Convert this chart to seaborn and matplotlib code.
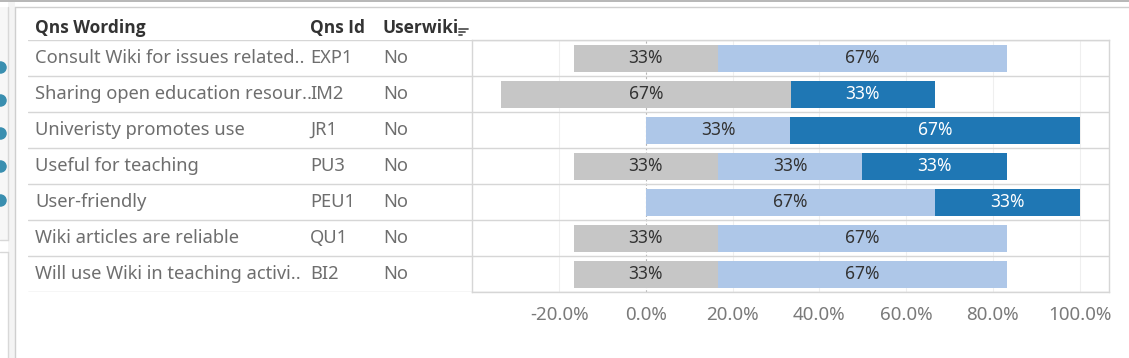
import numpy as np
import pandas as pd
import matplotlib
matplotlib.use('Agg')
import matplotlib.pyplot as plt
from matplotlib.lines import Line2D
from matplotlib.patches import Rectangle
import seaborn as sns

# 데이터 (그림에서 읽은 값, 단위 %)
wording = ['Consult Wiki for issues related..', 'Sharing open education resour..',
           'Univeristy promotes use', 'Useful for teaching', 'User-friendly',
           'Wiki articles are reliable', 'Will use Wiki in teaching activi..']
qns_id = ['EXP1', 'IM2', 'JR1', 'PU3', 'PEU1', 'QU1', 'BI2']
userwiki = ['No', 'No', 'No', 'No', 'No', 'No', 'No']
neutral = [33.3, 66.7, 0.0, 33.3, 0.0, 33.3, 33.3]
agree = [66.7, 0.0, 33.3, 33.3, 66.7, 66.7, 66.7]
strongly = [0.0, 33.3, 66.7, 33.3, 33.3, 0.0, 0.0]
xticks = [-20, 0, 20, 40, 60, 80, 100]

C_GREY = '#c6c6c6'
C_LIGHT = '#aec7e8'
C_DARK = '#1f77b4'
C_LINE = '#d6d6d6'

sns.set_style('white')
plt.rcParams['font.family'] = ['Noto Sans', 'DejaVu Sans']

W, H = 1129, 358
fig = plt.figure(figsize=(W / 100, H / 100), dpi=100)
fig.patch.set_facecolor('white')


def fx(x):
    return x / W


def fy(y):
    return 1 - y / H


# 태블로 화면 테두리 흉내
fig.add_artist(Rectangle((0, fy(240)), fx(8), fy(7) - fy(240), transform=fig.transFigure,
                         facecolor='#f7f7f7', edgecolor='none'))
fig.add_artist(Rectangle((fx(8), 0), fx(7), 1, transform=fig.transFigure,
                         facecolor='#f4f4f4', edgecolor='none'))
fig.add_artist(Rectangle((0, fy(2)), 1, fy(0) - fy(2), transform=fig.transFigure,
                         facecolor='#b8b8b8', edgecolor='none'))
fig.add_artist(Line2D([fx(15), 1], [fy(7), fy(7)], transform=fig.transFigure, color='#cfcfcf', lw=1))
fig.add_artist(Line2D([fx(15), fx(15)], [0, fy(7)], transform=fig.transFigure, color='#cfcfcf', lw=1))
fig.add_artist(Line2D([fx(8), fx(8)], [fy(240), fy(7)], transform=fig.transFigure, color='#d8d8d8', lw=1))
fig.add_artist(Line2D([0, fx(8)], [fy(240), fy(240)], transform=fig.transFigure, color='#d8d8d8', lw=1))
fig.add_artist(Line2D([0, fx(8)], [fy(252), fy(252)], transform=fig.transFigure, color='#d8d8d8', lw=1))
fig.add_artist(Line2D([fx(8), fx(8)], [0, fy(252)], transform=fig.transFigure, color='#d8d8d8', lw=1))
for cy in [67, 100, 133, 166, 200]:
    fig.add_artist(Line2D([fx(0)], [fy(cy)], transform=fig.transFigure, marker='o',
                          markersize=8, color='#3a8fb0', ls='none'))

# 막대 영역 / 왼쪽 표 영역
ax = fig.add_axes([fx(472), fy(292), fx(1109) - fx(472), fy(40) - fy(292)])
tab = fig.add_axes([fx(28), fy(292), fx(472) - fx(28), fy(40) - fy(292)])

df = pd.DataFrame({'qid': qns_id, 'neutral': neutral, 'agree': agree, 'strongly': strongly})
df['half'] = df['neutral'] / 2
df['neg_half'] = -df['half']
df['end_light'] = df['half'] + df['agree']
df['end_dark'] = df['end_light'] + df['strongly']

# 겹쳐 그리기로 누적 막대 (뒤에서부터)
bw = 0.75
sns.barplot(data=df, y='qid', x='end_dark', orient='h', color=C_DARK, saturation=1, width=bw, ax=ax)
sns.barplot(data=df, y='qid', x='end_light', orient='h', color=C_LIGHT, saturation=1, width=bw, ax=ax)
sns.barplot(data=df, y='qid', x='half', orient='h', color=C_GREY, saturation=1, width=bw, ax=ax)
sns.barplot(data=df, y='qid', x='neg_half', orient='h', color=C_GREY, saturation=1, width=bw, ax=ax)
for p in ax.patches:
    p.set_edgecolor('none')

lab_fs = 12.5
for i, r in df.iterrows():
    if r['neutral'] > 0:
        ax.text(0, i, f"{r['neutral']:.0f}%", ha='center', va='center', fontsize=lab_fs, color='#333333')
    if r['agree'] > 0:
        ax.text(r['half'] + r['agree'] / 2, i, f"{r['agree']:.0f}%", ha='center', va='center',
                fontsize=lab_fs, color='#333333')
    if r['strongly'] > 0:
        ax.text(r['end_light'] + r['strongly'] / 2, i, f"{r['strongly']:.0f}%", ha='center',
                va='center', fontsize=lab_fs, color='white')

ax.set_xlim(-40.1, 106.8)
ax.set_ylim(6.5, -0.5)
ax.set_xticks(xticks)
ax.set_xticklabels([f'{t:.1f}%' for t in xticks])
ax.tick_params(axis='x', length=0, pad=10, labelsize=13.5, labelcolor='#7a7a7a')
ax.set_yticks([])
ax.set_xlabel('')
ax.set_ylabel('')
ax.set_axisbelow(True)
for t in xticks:
    if t == 0:
        ax.axvline(0, color='#b5b5b5', lw=0.8, ls=(0, (2, 2)), zorder=0)
    else:
        ax.axvline(t, color='#efefef', lw=0.8, zorder=0)
for k in range(len(qns_id) + 1):
    ax.axhline(k - 0.5, color=C_LINE, lw=1, zorder=0.5)
for s in ax.spines.values():
    s.set_color(C_LINE)
    s.set_linewidth(1)

# 왼쪽 표
tab.set_xlim(0, 444)
tab.set_ylim(6.5, -0.5)
tab.axis('off')
col_x = [7, 282, 355]
for k in range(len(qns_id) + 1):
    tab.plot([0, 444], [k - 0.5, k - 0.5], color=C_LINE, lw=1)
for i in range(len(qns_id)):
    for cx, val in zip(col_x, [wording[i], qns_id[i], userwiki[i]]):
        tab.text(cx, i, val, ha='left', va='center', fontsize=13.2, color='#6e6e6e')
for cx, h in zip(col_x, ['Qns Wording', 'Qns Id', 'Userwiki']):
    tab.text(cx, -0.83, h, ha='left', va='center', fontsize=12.5, color='#333333',
             fontweight='bold', family=['Open Sans', 'DejaVu Sans'], clip_on=False)

# 정렬 아이콘
for yy, x1 in [(29, 468), (32, 465), (35, 462)]:
    fig.add_artist(Line2D([fx(459), fx(x1)], [fy(yy), fy(yy)], transform=fig.transFigure,
                          color='#555555', lw=1.3))

fig.savefig('out.png', dpi=100)
